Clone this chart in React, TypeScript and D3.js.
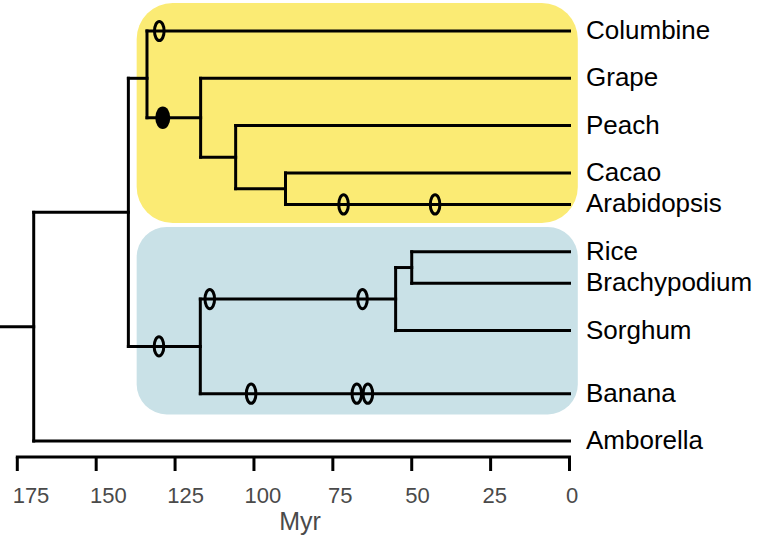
import React from "react";
import * as d3 from "d3";

// Leaves (top to bottom)
const leafNames = ["Columbine", "Grape", "Peach", "Cacao", "Arabidopsis", "Rice", "Brachypodium", "Sorghum", "Banana", "Amborella"];
const leafRows = [0, 3, 6, 9, 11, 14, 16, 19, 23, 26];
const leafParents = ["Eudicots", "CoreEudicots", "Rosids", "Malvids", "Malvids", "BOP", "BOP", "Grasses", "Monocots", "Root"];

// Internal nodes (parents listed before children)
const nodeNames = ["Root", "Angiosperms", "Eudicots", "CoreEudicots", "Rosids", "Malvids", "Monocots", "Grasses", "BOP"];
const nodeParents = [null, "Root", "Angiosperms", "Eudicots", "CoreEudicots", "Rosids", "Angiosperms", "Monocots", "Grasses"];
const nodeAges = [169.8, 139.8, 133.9, 116.9, 105.8, 90.0, 117.0, 55.1, 50.0];
const nodeRowsGiven: (number | null)[] = [null, null, 3, null, null, null, null, null, null];
const rootStemAge = 180.5;

// Duplication events: branch (named by its child), age in Myr, filled marker
const eventBranches = ["Columbine", "CoreEudicots", "Arabidopsis", "Arabidopsis", "Monocots", "Grasses", "Grasses", "Banana", "Banana", "Banana"];
const eventAges = [130.0, 128.9, 71.6, 42.6, 130.1, 114.0, 65.6, 100.9, 67.4, 63.9];
const eventFilled = [false, true, false, false, false, false, false, false, false, false];

// Axis
const tickValues = [175, 150, 125, 100, 75, 50, 25, 0];
const axisTitle = "Myr";

// Clade shading
const cladeLeaves = [["Columbine", "Arabidopsis"], ["Rice", "Banana"]];
const cladeColors = ["#fbeb74", "#c9e1e7"];

const W = 757;
const H = 540;
const FONT = "'Liberation Sans', Arial, Helvetica, sans-serif";

export default function App() {
  const x = d3.scaleLinear().domain([175, 0]).range([17.3, 569.5]);
  const y = d3.scaleLinear().domain([0, 26]).range([31, 441]);
  const xLab = d3.scaleLinear().domain([175, 0]).range([31, 572]);

  // compute rows/ages for all nodes
  const info: Record<string, { age: number; row: number; parent: string | null; leaf: boolean }> = {};
  leafNames.forEach((n, i) => {
    info[n] = { age: 0, row: leafRows[i], parent: leafParents[i], leaf: true };
  });
  nodeNames.forEach((n, i) => {
    info[n] = { age: nodeAges[i], row: NaN, parent: nodeParents[i], leaf: false };
  });
  const childrenOf = (n: string) => Object.keys(info).filter((k) => info[k].parent === n);
  for (let i = nodeNames.length - 1; i >= 0; i--) {
    const n = nodeNames[i];
    if (nodeRowsGiven[i] != null) {
      info[n].row = nodeRowsGiven[i] as number;
    } else {
      const rows = childrenOf(n).map((c) => info[c].row);
      info[n].row = ((d3.min(rows) as number) + (d3.max(rows) as number)) / 2;
    }
  }

  const branches: string[] = [];
  Object.keys(info).forEach((k) => {
    const d = info[k];
    if (d.parent) {
      branches.push(`M${x(info[d.parent].age)},${y(d.row)}H${x(d.age)}`);
    }
  });
  nodeNames.forEach((n) => {
    const rows = childrenOf(n).map((c) => info[c].row);
    branches.push(`M${x(info[n].age)},${y(d3.min(rows) as number)}V${y(d3.max(rows) as number)}`);
  });
  const root = info["Root"];
  branches.push(`M${x(rootStemAge)},${y(root.row)}H${x(root.age)}`);

  // clade boxes
  const boxes = cladeLeaves.map((pair, i) => {
    const r0 = info[pair[0]].row;
    const r1 = info[pair[1]].row;
    const top = i === 0 ? y(r0) - 28 : y(r0) - 24.7;
    const bottom = i === 0 ? y(r1) + 18.5 : y(r1) + 20.7;
    return { x0: x(info["Angiosperms"].age) + 8.3, x1: x(0) + 8.3, top, bottom, color: cladeColors[i], r: i === 0 ? 36 : 30 };
  });

  const axisY = 457;

  return (
    <svg width={W} height={H} style={{ position: "absolute", left: 0, top: 0, background: "#fff" }} fontFamily={FONT}>
      {boxes.map((b, i) => (
        <rect key={i} x={b.x0} y={b.top} width={b.x1 - b.x0} height={b.bottom - b.top} rx={b.r} ry={b.r} fill={b.color} />
      ))}
      <g fill="none" stroke="#000" strokeWidth={3} strokeLinecap="square">
        {branches.map((p, i) => (
          <path key={i} d={p} />
        ))}
      </g>
      {eventBranches.map((b, i) => {
        const cx = x(eventAges[i]);
        const cy = y(info[b].row);
        return eventFilled[i] ? (
          <ellipse key={i} cx={cx} cy={cy} rx={7.5} ry={11.3} fill="#000" />
        ) : (
          <ellipse key={i} cx={cx} cy={cy} rx={4.8} ry={9.6} fill="none" stroke="#000" strokeWidth={3} />
        );
      })}
      {leafNames.map((n) => (
        <text key={n} x={x(0) + 16.5} y={y(info[n].row) + 8} fontSize={26} fill="#000">
          {n}
        </text>
      ))}
      <g stroke="#000" strokeWidth={3} fill="none">
        <path d={`M${x(175)},${axisY}H${x(0)}`} strokeLinecap="square" />
        {tickValues.map((t) => (
          <path key={t} d={`M${x(t)},${axisY}V${axisY + 14}`} />
        ))}
      </g>
      {tickValues.map((t) => (
        <text key={t} x={xLab(t)} y={503} fontSize={22} fill="#4a4a4a" textAnchor="middle">
          {t}
        </text>
      ))}
      <text x={300} y={530} fontSize={25} fill="#4a4a4a" textAnchor="middle">
        {axisTitle}
      </text>
    </svg>
  );
}
